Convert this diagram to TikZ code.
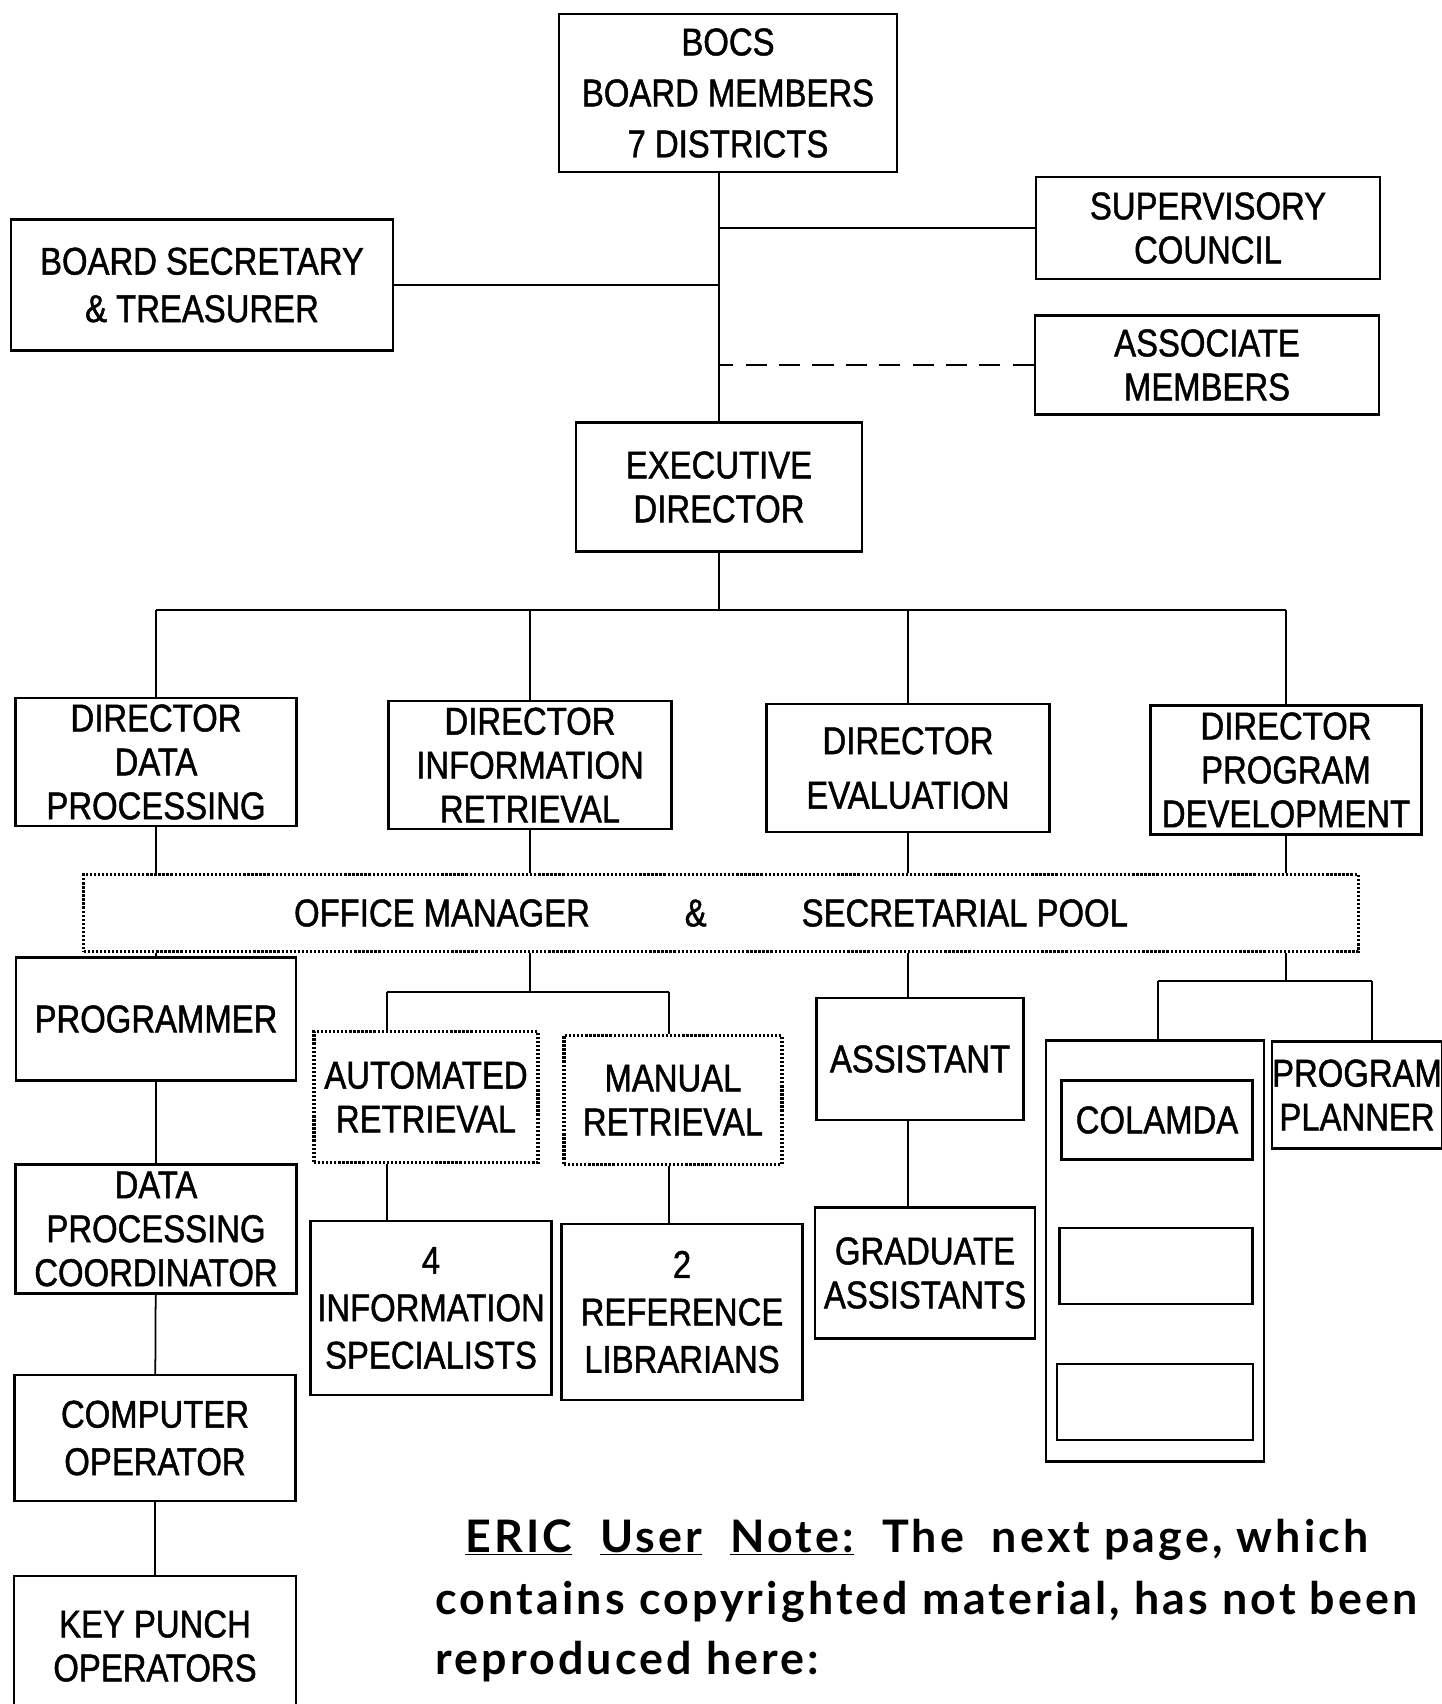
\documentclass[tikz,border=0pt]{standalone}
\usepackage{fontspec}
\setmainfont{Liberation Sans}[FakeStretch=0.85, FakeBold=1.2]
\newfontfamily\notefont{Lato}[LetterSpace=7]
\usetikzlibrary{positioning}

\begin{document}
\begin{tikzpicture}
      [x=0.02cm, y=-0.02cm,
      block/.style={rectangle, draw=black, line width=1.3pt, inner sep=0pt,
      align=center, font=\fontsize{22}{25}\selectfont},
      dotblock/.style={block, densely dotted, line width=1.8pt},
      wh/.style 2 args={minimum width=#1*0.02cm, minimum height=#2*0.02cm},
      note/.style={inner sep=0pt, anchor=base west,
      font=\notefont\bfseries\fontsize{25.5}{30}\selectfont},
      link/.style={draw, line width=1pt}]
      \useasboundingbox (0,0) rectangle (1442,1704);

      % board level
      \node [block, wh={338}{158}] (bocs) at (728,93)
        {BOCS\\[4pt] BOARD MEMBERS\\[4pt] 7 DISTRICTS};
      \node [block, wh={344}{102}] (sup) at (1208,228) {SUPERVISORY\\ COUNCIL};
      \node [block, wh={382}{131}] (sec) at (202,285) {BOARD SECRETARY\\[2pt] \& TREASURER};
      \node [block, wh={344}{99}] (assoc) at (1207,365) {ASSOCIATE\\ MEMBERS};
      \node [block, wh={286}{129}] (exec) at (719,487) {EXECUTIVE\\ DIRECTOR};

      % directors
      \node [block, wh={281}{128}] (ddp) at (156,762) {DIRECTOR\\ DATA\\ PROCESSING};
      \node [block, wh={283}{128}] (dir) at (530,765) {DIRECTOR\\ INFORMATION\\ RETRIEVAL};
      \node [block, wh={283}{128}] (dev) at (908,768) {DIRECTOR\\[6pt] EVALUATION};
      \node [block, wh={271}{129}] (dpd) at (1286,770) {DIRECTOR\\ PROGRAM\\ DEVELOPMENT};

      \node [dotblock, wh={1275}{77}] (pool) at (721,913)
        {OFFICE MANAGER\hspace{1.9cm}\&\hspace{1.9cm}SECRETARIAL POOL\kern0.4cm};

      % data processing column
      \node [block, wh={280}{123}] (prog) at (156,1019) {PROGRAMMER};
      \node [block, wh={281}{129}] (dpc) at (156,1229) {DATA\\ PROCESSING\\ COORDINATOR};
      \node [block, wh={281}{126}] (cop) at (155,1438) {COMPUTER\\[2pt] OPERATOR};
      \node [block, wh={282}{140}] (kpo) at (155,1646) {KEY PUNCH\\ OPERATORS};

      % information retrieval
      \node [dotblock, wh={224}{131}] (auto) at (426,1097) {AUTOMATED\\ RETRIEVAL};
      \node [dotblock, wh={218}{129}] (man) at (673,1100) {MANUAL\\ RETRIEVAL};
      \node [block, wh={241}{174}] (spec) at (431,1308) {4\\[2pt] INFORMATION\\[2pt] SPECIALISTS};
      \node [block, wh={241}{176}] (lib) at (682,1312) {2\\[2pt] REFERENCE\\[2pt] LIBRARIANS};

      % evaluation
      \node [block, wh={207}{122}] (asst) at (920,1059) {ASSISTANT};
      \node [block, wh={220}{131}] (grad) at (925,1273) {GRADUATE\\ ASSISTANTS};

      % program development
      \node [block, wh={218}{421}] (colout) at (1155,1251) {};
      \node [block, wh={191}{79}] (col1) at (1157,1120) {COLAMDA};
      \node [block, wh={193}{76}] (col2) at (1156,1266) {};
      \node [block, wh={196}{76}] (col3) at (1155,1402) {};
      \node [block, wh={166}{107}] (plan) at (1357,1095) {PROGRAM\\ PLANNER};

      \coordinate (bus) at (719,610);
      \coordinate (irL) at (387,992);
      \coordinate (irR) at (669,992);
      \coordinate (pdL) at (1158,981);
      \coordinate (pdR) at (1372,981);

      \begin{scope}[every path/.style=link]
        \path (exec.north |- bocs.south) -- (exec.north);
        \path (sup.west) -- (sup.west -| exec.north);
        \path (sec.east) -- (sec.east -| exec.north);
        \path [dashed, dash pattern=on 12pt off 7pt] (assoc.west) -- (assoc.west -| exec.north);
        \path (exec.south) -- (bus);
        \path (ddp.north |- bus) -- (dpd.north |- bus);
        \path (ddp.north |- bus) -- (ddp.north);
        \path (dir.north |- bus) -- (dir.north);
        \path (dev.north |- bus) -- (dev.north);
        \path (dpd.north |- bus) -- (dpd.north);
        \path (ddp.south) -- (ddp.south |- pool.north);
        \path (dir.south) -- (dir.south |- pool.north);
        \path (dev.south) -- (dev.south |- pool.north);
        \path (dpd.south) -- (dpd.south |- pool.north);
        % data processing
        \path (ddp.south |- pool.south) -- (prog.north);
        \path (prog) -- (dpc);
        \path (dpc) -- (cop);
        \path (cop) -- (kpo);
        % information retrieval
        \path (dir.south |- pool.south) -- (dir.south |- irL);
        \path (irL) -- (irR);
        \path (irL) -- (irL |- auto.north);
        \path (irR) -- (irR |- man.north);
        \path (irL |- auto.south) -- (irL |- spec.north);
        \path (irR |- man.south) -- (irR |- lib.north);
        % evaluation
        \path (dev.south |- pool.south) -- (dev.south |- asst.north);
        \path (dev.south |- asst.south) -- (dev.south |- grad.north);
        % program development
        \path (dpd.south |- pool.south) -- (dpd.south |- pdL);
        \path (pdL) -- (pdR);
        \path (pdL) -- (pdL |- colout.north);
        \path (pdR) -- (pdR |- plan.north);
      \end{scope}

      \node [note] (note1) at (465,1552)
        {\underline{ERIC}\ \ \underline{User}\ \ \underline{Note:}\ \ The\ \ next\ page,\ which};
      \node [note] (note2) at (435,1614) {contains\ copyrighted\ material,\ has\ not\ been};
      \node [note] (note3) at (435,1674) {reproduced\ here:};
\end{tikzpicture}
\end{document}
